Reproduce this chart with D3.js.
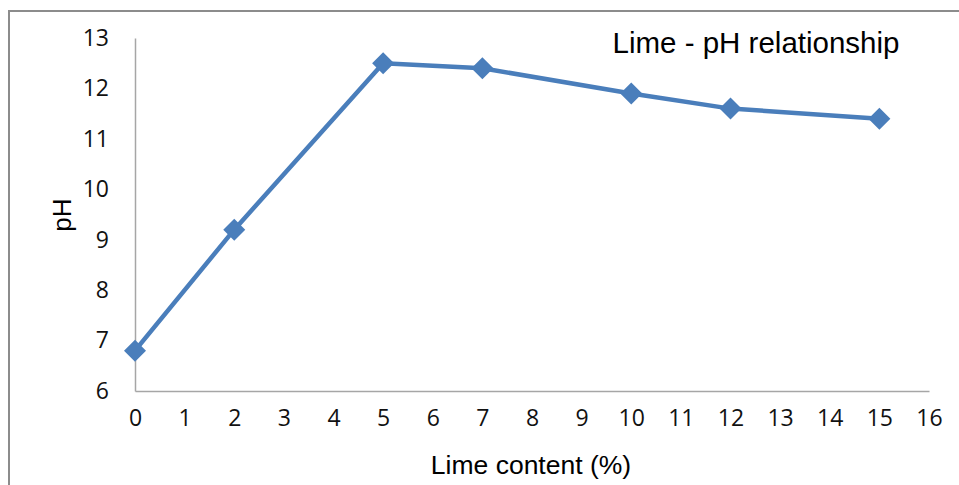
<!DOCTYPE html>
<html><head><meta charset="utf-8">
<script src="https://cdn.jsdelivr.net/npm/d3@7"></script>
<style>body{margin:0;background:#fff;} svg{display:block;}</style>
</head><body>
<svg id="c" width="959" height="485"></svg>
<script>
const limeContent = [0, 2, 5, 7, 10, 12, 15];
const phValues = [6.8, 9.2, 12.5, 12.4, 11.9, 11.6, 11.4];
const xTicks = d3.range(0, 17, 1);
const yTicks = [6, 7, 8, 9, 10, 11, 12, 13];
const titleText = "Lime - pH relationship";
const xTitle = "Lime content (%)";
const yTitle = "pH";

const svg = d3.select("#c");
svg.append("rect").attr("x", 9).attr("y", 11).attr("width", 960).attr("height", 490)
  .attr("fill", "#fff").attr("stroke", "#8c8c8c").attr("stroke-width", 2);

const x = d3.scaleLinear().domain([0, 16]).range([135, 929]);
const y = d3.scaleLinear().domain([6, 13]).range([391, 38]);

const tickFont = "'Open Sans', 'Liberation Sans', sans-serif";
const xa = svg.append("g").attr("transform", "translate(0,391)")
  .call(d3.axisBottom(x).tickValues(xTicks).tickFormat(d3.format("d")).tickSize(0).tickPadding(19));
xa.select(".domain").attr("stroke", "#a6a6a6").attr("stroke-width", 1.5);
xa.selectAll("text").attr("font-family", tickFont).attr("font-size", 23).attr("fill", "#111");

const ya = svg.append("g").attr("transform", "translate(135,0)")
  .call(d3.axisLeft(y).tickValues(yTicks).tickFormat(d3.format("d")).tickSize(0).tickPadding(26));
ya.select(".domain").attr("stroke", "#a6a6a6").attr("stroke-width", 1.5);
ya.selectAll("text").attr("font-family", tickFont).attr("font-size", 23).attr("fill", "#111");

const pts = limeContent.map((d, i) => [d, phValues[i]]);
svg.append("path").datum(pts)
  .attr("fill", "none").attr("stroke", "#4a7ebb").attr("stroke-width", 4.5)
  .attr("stroke-linejoin", "round")
  .attr("d", d3.line().x(d => x(d[0])).y(d => y(d[1])));

svg.selectAll("path.m").data(pts).enter().append("path").attr("class", "m")
  .attr("transform", d => `translate(${x(d[0])},${y(d[1])})`)
  .attr("d", "M0,-11L11,0L0,11L-11,0Z")
  .attr("fill", "#4a7ebb");

svg.append("text").attr("x", 756).attr("y", 53).attr("text-anchor", "middle")
  .attr("font-family", "'Liberation Sans', Arial, sans-serif").attr("font-size", 29.5)
  .attr("fill", "#000").text(titleText);

svg.append("text").attr("x", 531).attr("y", 474).attr("text-anchor", "middle")
  .attr("font-family", "'Liberation Sans', Arial, sans-serif").attr("font-size", 26.5)
  .attr("fill", "#000").text(xTitle);

svg.append("text").attr("transform", "translate(71,215) rotate(-90)").attr("text-anchor", "middle")
  .attr("font-family", "'Liberation Sans', Arial, sans-serif").attr("font-size", 26)
  .attr("fill", "#000").text(yTitle);
</script>
</body></html>
